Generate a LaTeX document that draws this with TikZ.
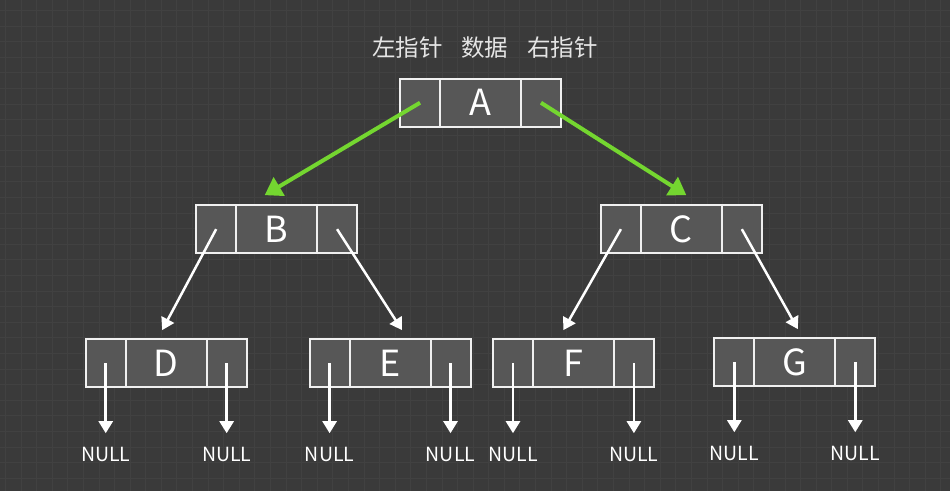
\documentclass[tikz,border=0pt]{standalone}
\usepackage{fontspec}
\newfontfamily\cjk{Noto Sans CJK SC}
\usepackage{tikz}
\usetikzlibrary{positioning,arrows.meta}
\usepackage{xcolor}
\definecolor{bgcol}{HTML}{3A3A3A}
\definecolor{gridcol}{HTML}{414141}
\definecolor{cellgray}{HTML}{575757}
\definecolor{linkgreen}{HTML}{74D630}

\begin{document}
\begin{tikzpicture}[x=1pt, y=-1pt,
    cell/.style={rectangle, draw=white!94!black, line width=2pt, fill=cellgray,
                 outer sep=0pt, inner sep=0pt, minimum height=48pt},
    ptr/.style={cell, minimum width=40pt},
    data/.style={cell, minimum width=81pt, text=white,
                 font=\cjk\fontsize{36}{36}\selectfont},
    headline/.style={text=white!90!black, font=\cjk\fontsize{23.5}{23.5}\selectfont},
    null/.style={text=white, font=\cjk\fontsize{19.5}{19.5}\selectfont},
    link/.style={-{Triangle[length=12pt,width=14pt]}, line width=2.5pt, white},
    nulllink/.style={link, shorten >=10pt},
    rootlink/.style={-{Triangle[length=17pt,width=21pt]}, line width=4pt, linkgreen}
]
    % background with faint grid
    \fill[bgcol] (0,0) rectangle (950,491);
    \foreach \x in {5,20.6,...,950}
        \draw[gridcol, line width=0.6pt] (\x,0) -- (\x,491);
    \foreach \y in {10,25.6,...,491}
        \draw[gridcol, line width=0.6pt] (0,\y) -- (950,\y);

    \node[headline] (heading) at (485,47) {左指针\hspace{0.8em}数据\hspace{0.8em}右指针};

    % tree nodes: left pointer | data | right pointer
    \foreach \n/\x/\y in {A/480.5/102.5, B/276.5/229, C/681.5/229,
                          D/166/363, E/390/363, F/573.5/363, G/795/362} {
        \node[data] (\n) at (\x,\y) {\n};
        \node[ptr, left=0pt of \n] (\n-l) {};
        \node[ptr, right=0pt of \n] (\n-r) {};
    }

    \draw[rootlink] (A-l.center) -- ([xshift=-12pt,yshift=10pt]B.north);
    \draw[rootlink] (A-r.center) -- ([xshift=5pt,yshift=10pt]C.north);

    \draw[link] (B-l.center) -- ([xshift=-4pt,yshift=9pt]D.north);
    \draw[link] (B-r.center) -- ([xshift=12pt,yshift=9pt]E.north);
    \draw[link] (C-l.center) -- ([xshift=-10pt,yshift=9pt]F.north);
    \draw[link] (C-r.center) -- ([xshift=3pt,yshift=9pt]G.north);

    % leaves point to NULL
    \foreach \n in {D,E,F,G} {
        \node[null] (\n-ln) at ([yshift=-91pt]\n-l.center) {NULL};
        \node[null] (\n-rn) at ([yshift=-91pt]\n-r.center) {NULL};
        \draw[nulllink] (\n-l.center) -- (\n-ln);
        \draw[nulllink] (\n-r.center) -- (\n-rn);
    }
\end{tikzpicture}
\end{document}
